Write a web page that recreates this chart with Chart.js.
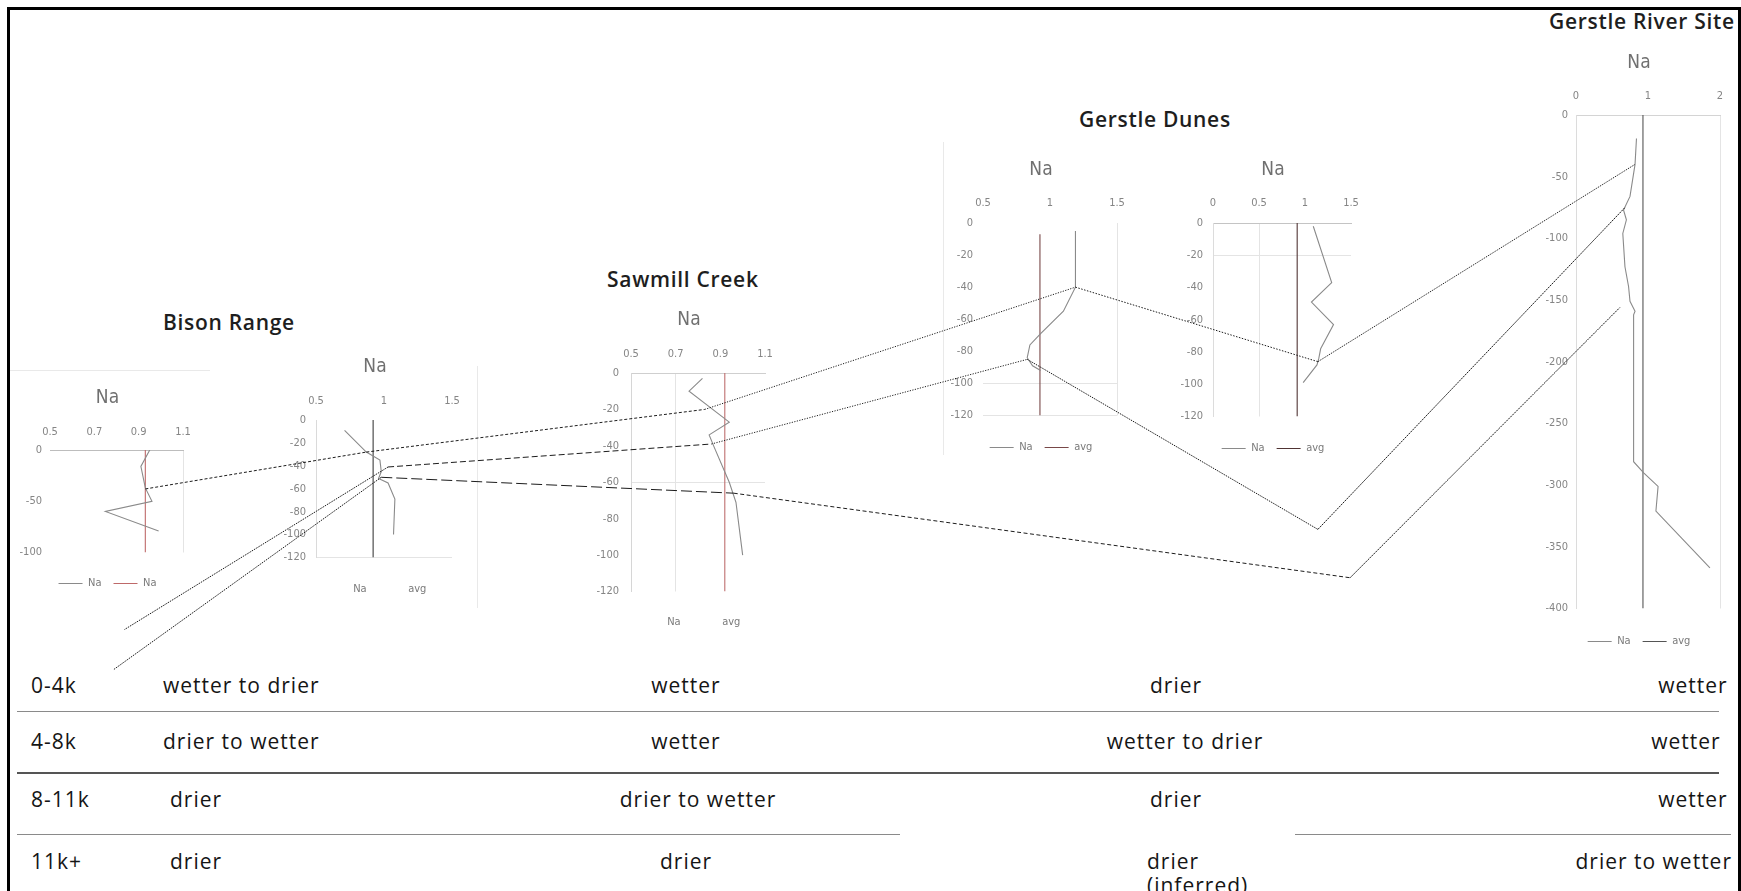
<!DOCTYPE html>
<html>
<head>
<meta charset="utf-8">
<script src="https://cdn.jsdelivr.net/npm/chart.js@4.4.1/dist/chart.umd.min.js"></script>
<style>
  html, body { margin: 0; padding: 0; background: #fff; }
  body { width: 1741px; height: 891px; position: relative; overflow: hidden; }
  .frame { position: absolute; left: 7px; top: 7px; width: 1734px; height: 900px; border: 3px solid #000; box-sizing: border-box; }
  canvas.core { position: absolute; }
  #links { position: absolute; left: 0; top: 0; pointer-events: none; }
  .faint { position: absolute; background: #e9e9e9; }
  .site { position: absolute; white-space: nowrap; font-family: 'Open Sans', sans-serif; font-weight: 600; font-size: 21px; letter-spacing: 0.7px; color: #1e1e1e; line-height: 1; transform: translateY(-50%); }
  .cell { position: absolute; white-space: nowrap; font-family: 'Open Sans', sans-serif; font-size: 21px; letter-spacing: 1px; color: #151515; line-height: 24px; }
  .rule { position: absolute; height: 0; border-top: 1px solid #8a8a8a; }
  .rule.heavy { border-top: 2px solid #555; }
</style>
</head>
<body>
<div class="frame"></div>
<!-- faint outlines of the individual plot frames -->
<div class="faint" style="left:10px;top:370px;width:200px;height:1px"></div>
<div class="faint" style="left:477px;top:366px;width:1px;height:242px"></div>
<div class="faint" style="left:943px;top:142px;width:1px;height:313px"></div>
<div id="texts"></div>
<canvas id="links" width="1741" height="891"></canvas>
<script>
// ---------- Na profiles (depth in cm, Na ratio) ----------
const bisonA_depth = [0, -16, -37, -50, -60, -79];
const bisonA_na    = [0.95, 0.91, 0.93, 0.96, 0.75, 0.99];
const bisonA_avg   = 0.93;
const bisonA_span  = [0, -100];

const bisonB_depth = [-9, -28, -35, -45, -51, -55, -69, -100];
const bisonB_na    = [0.71, 0.87, 0.97, 0.98, 0.96, 1.03, 1.08, 1.07];
const bisonB_avg   = 0.92;
const bisonB_span  = [0, -120];

const sawmill_depth = [-3, -10, -27, -34, -40, -60, -71, -100];
const sawmill_na    = [0.82, 0.76, 0.94, 0.85, 0.87, 0.94, 0.97, 1.0];
const sawmill_avg   = 0.92;
const sawmill_span  = [0, -120];

const dunesA_depth = [-5, -40, -55, -69, -76, -84, -89, -92];
const dunesA_na    = [1.19, 1.19, 1.10, 0.93, 0.85, 0.83, 0.87, 0.93];
const dunesA_avg   = 0.925;
const dunesA_span  = [-7, -120];

const dunesB_depth = [-2, -37, -49, -63, -78, -84, -88, -99];
const dunesB_na    = [1.09, 1.29, 1.07, 1.31, 1.17, 1.15, 1.13, 0.98];
const dunesB_avg   = 0.915;
const dunesB_span  = [0, -120];

const river_depth = [-19, -40, -66, -77, -85, -96, -123, -139, -151, -159, -162, -281, -290, -301, -321, -367];
const river_na    = [0.84, 0.82, 0.75, 0.66, 0.70, 0.65, 0.68, 0.73, 0.75, 0.82, 0.80, 0.80, 0.94, 1.14, 1.11, 1.86];
const river_avg   = 0.93;
const river_span  = [0, -400];

// ---------- correlation ties between profiles (site, Na, depth) ----------
const tieA_site  = ['bisonA', 'bisonB', 'sawmill', 'dunesA', 'dunesB', 'river'];
const tieA_na    = [0.93, 0.87, 0.83, 1.19, 1.14, 0.82];
const tieA_depth = [-38, -28, -20, -40, -86, -40];

const tieB_site  = ['bisonB', 'sawmill', 'dunesA', 'dunesB', 'river'];
const tieB_na    = [1.03, 0.86, 0.83, 1.14, 0.68];
const tieB_depth = [-41, -39, -85, -190, -75];

const tieC_site  = ['bisonB', 'sawmill', 'dunesB', 'river'];
const tieC_na    = [0.98, 0.96, 1.49, 0.61];
const tieC_depth = [-50, -66, -220, -156];

const tieD_site  = ['bisonB', 'bisonB'];
const tieD_na    = [1.03, -0.91];
const tieD_depth = [-41, -183];

const tieE_site  = ['bisonB', 'bisonB'];
const tieE_na    = [0.98, -0.99];
const tieE_depth = [-50, -218];

// ---------- summary table ----------
const periods      = ['0-4k', '4-8k', '8-11k', '11k+'];
const bisonTrend   = ['wetter to drier', 'drier to wetter', 'drier', 'drier'];
const sawmillTrend = ['wetter', 'wetter', 'drier to wetter', 'drier'];
const dunesTrend   = ['drier', 'wetter to drier', 'drier', 'drier<br>(inferred)'];
const riverTrend   = ['wetter', 'wetter', 'wetter', 'drier to wetter'];
const siteNames    = ['Bison Range', 'Sawmill Creek', 'Gerstle Dunes', 'Gerstle River Site'];

// ---------- styling / layout ----------
const CORE_FONT = "'Liberation Sans Narrow','DejaVu Sans Condensed','Liberation Sans',sans-serif";
const TICK_COLOR = '#858585';
const NA_COLOR = '#8a8a8a';
Chart.defaults.font.family = CORE_FONT;

const layout = {
  bisonA:  { L: 50,   T: 450, R: 183,  B: 553, xMin: 0.5, xMax: 1.1, xStep: 0.2, yMin: -100, yStep: 50, titleY: 398, legendY: 584, padX: 11, padY: 8,
             xBorder: '#bdbdbd', yBorder: null, xGrid: [1.1], yGrid: [], avgColor: 'rgb(190,105,105)', legendLines: true, names: ['Na', 'Na'] },
  bisonB:  { L: 316,  T: 420, R: 452,  B: 558, xMin: 0.5, xMax: 1.5, xStep: 0.5, yMin: -120, yStep: 20, titleY: 367, legendY: 590, padX: 12, padY: 10,
             xBorder: null, yBorder: '#dadada', xGrid: [], yGrid: [-120], avgColor: '#3c3c3c', legendLines: false, names: ['Na', 'avg'] },
  sawmill: { L: 631,  T: 373, R: 765,  B: 592, xMin: 0.5, xMax: 1.1, xStep: 0.2, yMin: -120, yStep: 20, titleY: 320, legendY: 623, padX: 12, padY: 12,
             xBorder: '#cfcfcf', yBorder: '#d6d6d6', xGrid: [0.7], yGrid: [-60], avgColor: 'rgb(190,110,110)', legendLines: false, names: ['Na', 'avg'] },
  dunesA:  { L: 983,  T: 223, R: 1117, B: 416, xMin: 0.5, xMax: 1.5, xStep: 0.5, yMin: -120, yStep: 20, titleY: 170, legendY: 448, padX: 13, padY: 10,
             xBorder: null, yBorder: null, xGrid: [1.5], yGrid: [-100, -120], avgColor: 'rgb(120,72,72)', legendLines: true, names: ['Na', 'avg'] },
  dunesB:  { L: 1213, T: 223, R: 1351, B: 417, xMin: 0, xMax: 1.5, xStep: 0.5, yMin: -120, yStep: 20, titleY: 170, legendY: 449, padX: 13, padY: 10,
             xBorder: '#c4c4c4', yBorder: '#dcdcdc', xGrid: [0.5], yGrid: [-20], avgColor: 'rgb(80,52,52)', legendLines: true, names: ['Na', 'avg'] },
  river:   { L: 1576, T: 115, R: 1720, B: 609, xMin: 0, xMax: 2, xStep: 1, yMin: -400, yStep: 50, titleY: 63, legendY: 642, padX: 12, padY: 8,
             xBorder: '#d4d4d4', yBorder: '#dcdcdc', xGrid: [2], yGrid: [], avgColor: '#555', legendLines: true, names: ['Na', 'avg'] }
};

const profiles = {
  bisonA:  [bisonA_depth, bisonA_na, bisonA_avg, bisonA_span],
  bisonB:  [bisonB_depth, bisonB_na, bisonB_avg, bisonB_span],
  sawmill: [sawmill_depth, sawmill_na, sawmill_avg, sawmill_span],
  dunesA:  [dunesA_depth, dunesA_na, dunesA_avg, dunesA_span],
  dunesB:  [dunesB_depth, dunesB_na, dunesB_avg, dunesB_span],
  river:   [river_depth, river_na, river_avg, river_span]
};

const cores = {};
const corePos = {};
const tickText = v => String(Number(Number(v).toFixed(2)));

function buildCore(id) {
  const s = layout[id];
  const [depth, na, avg, span] = profiles[id];
  // YW: y label box; RG: empty box right of the plot, so the title and legend
  // (which span the whole canvas) sit a little left of the plot centre
  const YW = 36, RG = 18, PR = 4, TLH = 19 * 1.2;
  const LF = 11, LP = 12;
  const left = s.L - YW;
  const top = Math.round(s.titleY - TLH / 2);
  const xH = s.T - top - TLH;
  const legendH = LF + LP + 10;
  const gapH = Math.max(0, s.legendY - s.B - LP - LF / 2);
  const width = YW + (s.R - s.L) + RG + PR;
  const height = (s.B - top) + gapH + legendH;

  const cv = document.createElement('canvas');
  cv.className = 'core';
  cv.width = width; cv.height = height;
  cv.style.left = left + 'px';
  cv.style.top = top + 'px';
  document.body.insertBefore(cv, document.getElementById('links'));
  corePos[id] = { left, top };

  const near = (a, b) => Math.abs(a - b) < 1e-6;
  const gridColor = list => c => (c.tick && list.some(v => near(v, c.tick.value))) ? '#e4e4e4' : 'rgba(0,0,0,0)';
  const tickFont = { family: CORE_FONT, size: 11 };
  const blank = { ticks: { display: false }, grid: { display: false, drawTicks: false }, border: { display: false } };

  cores[id] = new Chart(cv, {
    type: 'scatter',
    data: {
      datasets: [
        { label: s.names[0], data: depth.map((d, i) => ({ x: na[i], y: d })), showLine: true,
          borderColor: NA_COLOR, backgroundColor: NA_COLOR, borderWidth: 1.1, pointRadius: 0, tension: 0 },
        { label: s.names[1], data: span.map(d => ({ x: avg, y: d })), showLine: true,
          borderColor: s.avgColor, backgroundColor: s.avgColor, borderWidth: 1.1, pointRadius: 0 }
      ]
    },
    options: {
      responsive: false, animation: false, events: [],
      layout: { padding: { left: 0, top: 0, right: PR, bottom: 0 } },
      plugins: {
        title: { display: true, text: 'Na', color: '#707070', font: { family: CORE_FONT, size: 19, weight: 'normal' }, padding: 0 },
        tooltip: { enabled: false },
        legend: {
          display: true, position: 'bottom',
          labels: {
            usePointStyle: true, pointStyle: 'line', pointStyleWidth: 24, padding: LP,
            color: '#7a7a7a', font: { family: CORE_FONT, size: LF },
            generateLabels: chart => {
              const items = Chart.defaults.plugins.legend.labels.generateLabels(chart);
              items.forEach(it => {
                it.pointStyle = 'line';
                it.lineWidth = 1;
                if (!s.legendLines) it.strokeStyle = 'rgba(0,0,0,0)';
              });
              return items;
            }
          }
        }
      },
      scales: {
        x: {
          type: 'linear', position: 'top', min: s.xMin, max: s.xMax,
          ticks: { stepSize: s.xStep, padding: s.padX, color: TICK_COLOR, font: tickFont, maxRotation: 0, autoSkip: false, callback: tickText },
          grid: { drawTicks: false, color: gridColor(s.xGrid), lineWidth: 1 },
          border: { display: !!s.xBorder, color: s.xBorder || 'rgba(0,0,0,0)' },
          afterFit: sc => { sc.height = xH; }
        },
        y: {
          type: 'linear', position: 'left', min: s.yMin, max: 0,
          ticks: { stepSize: s.yStep, padding: s.padY, color: TICK_COLOR, font: tickFont, autoSkip: false, callback: tickText },
          grid: { drawTicks: false, color: gridColor(s.yGrid), lineWidth: 1 },
          border: { display: !!s.yBorder, color: s.yBorder || 'rgba(0,0,0,0)' },
          afterFit: sc => { sc.width = YW; }
        },
        gap: Object.assign({ axis: 'x', type: 'linear', position: 'bottom', display: true,
          afterFit: sc => { sc.height = gapH; } }, blank),
        rgap: Object.assign({ axis: 'y', type: 'linear', position: 'right', display: true,
          afterFit: sc => { sc.width = RG; } }, blank)
      }
    }
  });
}

Object.keys(layout).forEach(buildCore);

// ---------- correlation ties, placed through each profile's own scales ----------
const ties = [
  { site: tieA_site, na: tieA_na, depth: tieA_depth, dash: [[3, 2], [3, 2], [1.2, 1.4], [1.5, 1.5], [1.2, 1]] },
  { site: tieB_site, na: tieB_na, depth: tieB_depth, dash: [[6, 3], [1.2, 1.4], [1.5, 1], [2, 0.8]] },
  { site: tieC_site, na: tieC_na, depth: tieC_depth, dash: [[11, 4], [4, 2.5], [2, 0.8]] },
  { site: tieD_site, na: tieD_na, depth: tieD_depth, dash: [[1.6, 1]] },
  { site: tieE_site, na: tieE_na, depth: tieE_depth, dash: [[1.6, 1]] }
];

function tiePoint(site, na, depth) {
  const ch = cores[site], p = corePos[site];
  return [p.left + ch.scales.x.getPixelForValue(na), p.top + ch.scales.y.getPixelForValue(depth)];
}

const lctx = document.getElementById('links').getContext('2d');
lctx.strokeStyle = '#1c1c1c';
lctx.lineWidth = 1;
ties.forEach(t => {
  for (let i = 0; i < t.site.length - 1; i++) {
    const a = tiePoint(t.site[i], t.na[i], t.depth[i]);
    const b = tiePoint(t.site[i + 1], t.na[i + 1], t.depth[i + 1]);
    lctx.setLineDash(t.dash[i] || []);
    lctx.beginPath();
    lctx.moveTo(a[0], a[1]);
    lctx.lineTo(b[0], b[1]);
    lctx.stroke();
  }
});

// ---------- headings and summary table ----------
const texts = document.getElementById('texts');
function addText(cls, html, css) {
  const el = document.createElement('div');
  el.className = cls;
  el.innerHTML = html;
  Object.assign(el.style, css);
  texts.appendChild(el);
  return el;
}

const siteAnchors = [[163, 322], [607, 279], [1079, 119], [1549, 21]];
siteNames.forEach((n, i) => addText('site', n, { left: siteAnchors[i][0] + 'px', top: siteAnchors[i][1] + 'px' }));

const rowY = [685, 741, 799, 861];
const ruleY = [711, 772, 834];
const halfLine = 12;
const sawmillX = [686, 686, 698, 686];
const dunesX = [1176, 1185, 1176];
const riverX = [1693, 1686, 1693];

periods.forEach((p, r) => {
  const y = (rowY[r] - halfLine) + 'px';
  addText('cell', p, { left: '31px', top: y });
  addText('cell', bisonTrend[r], { left: (r >= 2 ? 170 : 163) + 'px', top: y });
  addText('cell', sawmillTrend[r], { left: sawmillX[r] + 'px', top: y, transform: 'translateX(-50%)' });
  if (r === 3) {
    addText('cell', dunesTrend[r], { left: '1147px', top: y });
    addText('cell', riverTrend[r], { right: (1741 - 1732) + 'px', top: y });
  } else {
    addText('cell', dunesTrend[r], { left: dunesX[r] + 'px', top: y, transform: 'translateX(-50%)' });
    addText('cell', riverTrend[r], { left: riverX[r] + 'px', top: y, transform: 'translateX(-50%)' });
  }
});

[[ruleY[0], 17, 1719, ''], [ruleY[1], 17, 1719, 'heavy'], [ruleY[2], 17, 900, ''], [ruleY[2], 1295, 1731, '']].forEach(([y, x0, x1, cls]) => {
  const el = document.createElement('div');
  el.className = 'rule ' + cls;
  el.style.left = x0 + 'px';
  el.style.top = y + 'px';
  el.style.width = (x1 - x0) + 'px';
  texts.appendChild(el);
});
</script>
</body>
</html>
